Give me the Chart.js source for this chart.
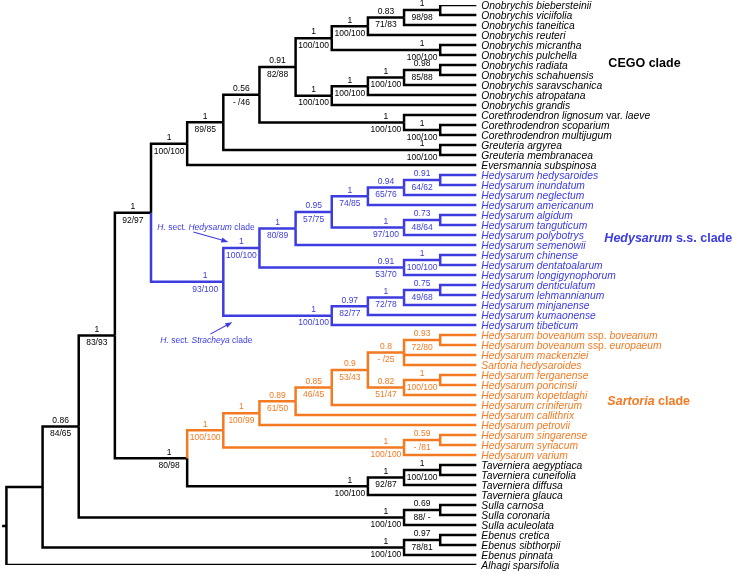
<!DOCTYPE html>
<html>
<head>
<meta charset="utf-8">
<script src="https://cdn.jsdelivr.net/npm/chart.js@4.4.1/dist/chart.umd.min.js"></script>
<style>
    html, body { margin: 0; padding: 0; background: #fff; }
    #wrap { width: 733px; height: 574px; position: relative; }
</style>
</head>
<body>
<div id="wrap"><canvas id="tree"></canvas></div>
<script>
//tip names, top to bottom
const taxa = [
    "Onobrychis biebersteinii", "Onobrychis viciifolia", "Onobrychis taneitica", "Onobrychis reuteri",
    "Onobrychis micrantha", "Onobrychis pulchella", "Onobrychis radiata", "Onobrychis schahuensis",
    "Onobrychis saravschanica", "Onobrychis atropatana", "Onobrychis grandis",
    "Corethrodendron lignosum var. laeve", "Corethrodendron scoparium", "Corethrodendron multijugum",
    "Greuteria argyrea", "Greuteria membranacea", "Eversmannia subspinosa",
    "Hedysarum hedysaroides", "Hedysarum inundatum", "Hedysarum neglectum", "Hedysarum americanum",
    "Hedysarum algidum", "Hedysarum tanguticum", "Hedysarum polybotrys", "Hedysarum semenowii",
    "Hedysarum chinense", "Hedysarum dentatoalarum", "Hedysarum longigynophorum",
    "Hedysarum denticulatum", "Hedysarum lehmannianum", "Hedysarum minjanense", "Hedysarum kumaonense",
    "Hedysarum tibeticum",
    "Hedysarum boveanum ssp. boveanum", "Hedysarum boveanum ssp. europaeum", "Hedysarum mackenziei",
    "Sartoria hedysaroides", "Hedysarum ferganense", "Hedysarum poncinsii", "Hedysarum kopetdaghi",
    "Hedysarum criniferum", "Hedysarum callithrix", "Hedysarum petrovii", "Hedysarum singarense",
    "Hedysarum syriacum", "Hedysarum varium",
    "Taverniera aegyptiaca", "Taverniera cuneifolia", "Taverniera diffusa", "Taverniera glauca",
    "Sulla carnosa", "Sulla coronaria", "Sulla aculeolata",
    "Ebenus cretica", "Ebenus sibthorpii", "Ebenus pinnata", "Alhagi sparsifolia"
];

//0 = other, 1 = Hedysarum s.s., 2 = Sartoria clade
const tipClade = [
    0,0,0,0,0,0,0,0,0,0,0,0,0,0,0,0,0,
    1,1,1,1,1,1,1,1,1,1,1,1,1,1,1,1,
    2,2,2,2,2,2,2,2,2,2,2,2,2,
    0,0,0,0,0,0,0,0,0,0,0
];

//internal nodes: children (number = tip, "nK" = node K), children listed before parents
const nodeKids = [
    [0,1], ["n0",2], ["n1",3], [4,5], ["n2","n3"],
    [6,7], ["n5",8], ["n6",9], ["n7",10], ["n4","n8"],
    [12,13], [11,"n10"], ["n9","n11"], [14,15], ["n12","n13"], ["n14",16],
    [17,18], ["n16",19], ["n17",20], [21,22], ["n19",23], ["n18","n20"], ["n21",24],
    [25,26], ["n23",27], ["n22","n24"],
    [28,29], ["n26",30], ["n27",31], ["n28",32], ["n25","n29"], ["n15","n30"],
    [33,34], ["n32",35,36], [37,38], ["n34",39], ["n33","n35"], ["n36",40], ["n37",41], ["n38",42],
    [43,44], ["n40",45], ["n39","n41"],
    [46,47], ["n43",48], ["n44",49], ["n42","n45"], ["n31","n46"],
    [50,51], ["n48",52], ["n47","n49"],
    [53,54], ["n51",55], ["n50","n52"], ["n53",56]
];
const nodeDepth = [
    12, 11, 10, 12, 9,
    12, 11, 10, 9, 8,
    12, 11, 7, 12, 6, 5,
    12, 11, 10, 12, 11, 9, 8,
    12, 11, 7,
    12, 11, 10, 9, 6, 4,
    12, 11, 12, 11, 10, 9, 8, 7,
    12, 11, 6,
    12, 11, 10, 5, 3,
    12, 11, 2,
    12, 11, 1, 0
];
//Bayesian posterior probability (above branch)
const nodePP = [
    "1", "0.83", "1", "1", "1",
    "0.98", "1", "1", "1", "0.91",
    "1", "1", "0.56", "1", "1", "1",
    "0.91", "0.94", "1", "0.73", "1", "0.95", "1",
    "1", "0.91", "1",
    "0.75", "1", "0.97", "1", "1", "1",
    "0.93", "0.8", "1", "0.82", "0.9", "0.85", "0.89", "1",
    "0.59", "1", "1",
    "1", "1", "1", "1", "1",
    "0.69", "1", "0.86",
    "0.97", "1", "", ""
];
//bootstrap ML/MP (below branch)
const nodeBS = [
    "98/98", "71/83", "100/100", "100/100", "100/100",
    "85/88", "100/100", "100/100", "100/100", "82/88",
    "100/100", "100/100", "- /46", "100/100", "89/85", "100/100",
    "64/62", "65/76", "74/85", "48/64", "97/100", "57/75", "80/89",
    "100/100", "53/70", "100/100",
    "49/68", "72/78", "82/77", "100/100", "93/100", "92/97",
    "72/80", "- /25", "100/100", "51/47", "53/43", "46/45", "61/50", "100/99",
    "- /81", "100/100", "100/100",
    "100/100", "92/87", "100/100", "80/98", "83/93",
    "88/ -", "100/100", "84/65",
    "78/81", "100/100", "", ""
];
const tipDepth = 13;
const cladeColors = ["#000000", "#3c3ce0", "#f47a22"];

//node positions
const nodeY = [];
const nodeCol = [];
const isTip = k => typeof k === "number";
const yOf = k => isTip(k) ? k : nodeY[+k.slice(1)];
const xOf = k => isTip(k) ? tipDepth : nodeDepth[+k.slice(1)];
const colOf = k => isTip(k) ? tipClade[k] : nodeCol[+k.slice(1)];

nodeKids.forEach((kids, i) => {
    nodeY[i] = (yOf(kids[0]) + yOf(kids[kids.length - 1])) / 2;
    const cols = kids.map(colOf);
    nodeCol[i] = cols.every(c => c === cols[0]) ? cols[0] : 0;
});

//one dataset per branch: half of the parent's vertical + the horizontal to the child
const datasets = [];
nodeKids.forEach((kids, i) => {
    kids.forEach(k => {
        datasets.push({
            data: [
                {x: nodeDepth[i], y: nodeY[i]},
                {x: nodeDepth[i], y: yOf(k)},
                {x: xOf(k), y: yOf(k)}
            ],
            borderColor: cladeColors[colOf(k)]
        });
    });
});
const root = nodeKids.length - 1;
datasets.push({
    data: [{x: -0.12, y: nodeY[root]}, {x: 0, y: nodeY[root]}],
    borderColor: "#000000"
});

function drawParts(ctx, parts, x, y, size, bold) {
    parts.forEach(([txt, italic]) => {
        ctx.font = (italic ? "italic " : "") + (bold ? "bold " : "") + size + "px 'Liberation Sans', Arial, sans-serif";
        ctx.fillText(txt, x, y);
        x += ctx.measureText(txt).width;
    });
}

function arrow(ctx, x1, y1, x2, y2) {
    const a = Math.atan2(y2 - y1, x2 - x1);
    ctx.beginPath();
    ctx.moveTo(x1, y1);
    ctx.lineTo(x2 - 5 * Math.cos(a), y2 - 5 * Math.sin(a));
    ctx.stroke();
    ctx.beginPath();
    ctx.moveTo(x2, y2);
    ctx.lineTo(x2 - 7 * Math.cos(a) + 2.6 * Math.sin(a), y2 - 7 * Math.sin(a) - 2.6 * Math.cos(a));
    ctx.lineTo(x2 - 7 * Math.cos(a) - 2.6 * Math.sin(a), y2 - 7 * Math.sin(a) + 2.6 * Math.cos(a));
    ctx.closePath();
    ctx.fill();
}

const treeLabels = {
    id: "treeLabels",
    afterDatasetsDraw(chart) {
        const {ctx, scales: {x, y}} = chart;
        ctx.save();
        ctx.textBaseline = "middle";

        //support values
        ctx.textAlign = "center";
        ctx.font = "8.5px 'Liberation Sans', Arial, sans-serif";
        const half = (x.getPixelForValue(1) - x.getPixelForValue(0)) / 2;
        nodeKids.forEach((kids, i) => {
            if (!nodePP[i] && !nodeBS[i]) return;
            const px = x.getPixelForValue(nodeDepth[i]) - half;
            const py = y.getPixelForValue(nodeY[i]);
            ctx.fillStyle = cladeColors[nodeCol[i]];
            ctx.fillText(nodePP[i], px, py - 6);
            ctx.fillText(nodeBS[i], px, py + 7.5);
        });

        //tip names
        ctx.textAlign = "left";
        const tx = x.getPixelForValue(tipDepth) + 5;
        taxa.forEach((name, i) => {
            ctx.fillStyle = cladeColors[tipClade[i]];
            const parts = name.split(" ").map((w, j) => [(j ? " " : "") + w, !(w === "var." || w === "ssp.")]);
            drawParts(ctx, parts, tx, y.getPixelForValue(i) + 1, 10.3, false);
        });

        //clade names
        const cx = x.getPixelForValue(tipDepth);
        ctx.fillStyle = cladeColors[0];
        drawParts(ctx, [["CEGO clade", false]], cx + 132, y.getPixelForValue(5.9), 12.5, true);
        ctx.fillStyle = cladeColors[1];
        drawParts(ctx, [["Hedysarum", true], [" s.s. clade", false]], cx + 128, y.getPixelForValue(23.4), 12.5, true);
        ctx.fillStyle = cladeColors[2];
        drawParts(ctx, [["Sartoria", true], [" clade", false]], cx + 131, y.getPixelForValue(39.7), 12.5, true);

        //section annotations with arrows
        const ex = x.getPixelForValue(nodeDepth[30]);
        const hy = y.getPixelForValue(nodeY[25]);
        const sy = y.getPixelForValue(nodeY[29]);
        ctx.fillStyle = cladeColors[1];
        ctx.strokeStyle = cladeColors[1];
        ctx.lineWidth = 1.1;
        drawParts(ctx, [["H.", true], [" sect. ", false], ["Hedysarum", true], [" clade", false]], ex - 66, hy - 20, 8.5, false);
        arrow(ctx, ex - 30, hy - 16, ex + 5, hy - 6);
        drawParts(ctx, [["H.", true], [" sect. ", false], ["Stracheya", true], [" clade", false]], ex - 63, sy + 25, 8.5, false);
        arrow(ctx, ex - 13, sy + 18.5, ex + 9, sy + 6.5);
        ctx.restore();
    }
};

new Chart(document.getElementById("tree"), {
    type: "scatter",
    data: {datasets},
    options: {
        responsive: true,
        maintainAspectRatio: false,
        animation: false,
        events: [],
        layout: {padding: {left: 1, right: 0, top: 5, bottom: 9}},
        datasets: {
            scatter: {
                showLine: true,
                borderWidth: 2.5,
                pointRadius: 0,
                pointHoverRadius: 0,
                tension: 0,
                borderJoinStyle: "miter",
                borderCapStyle: "butt"
            }
        },
        scales: {
            x: {type: "linear", min: -0.15, max: 20.1, display: false},
            y: {type: "linear", min: 0, max: 56, reverse: true, display: false}
        },
        plugins: {
            legend: {display: false},
            tooltip: {enabled: false}
        }
    },
    plugins: [treeLabels]
});
</script>
</body>
</html>
